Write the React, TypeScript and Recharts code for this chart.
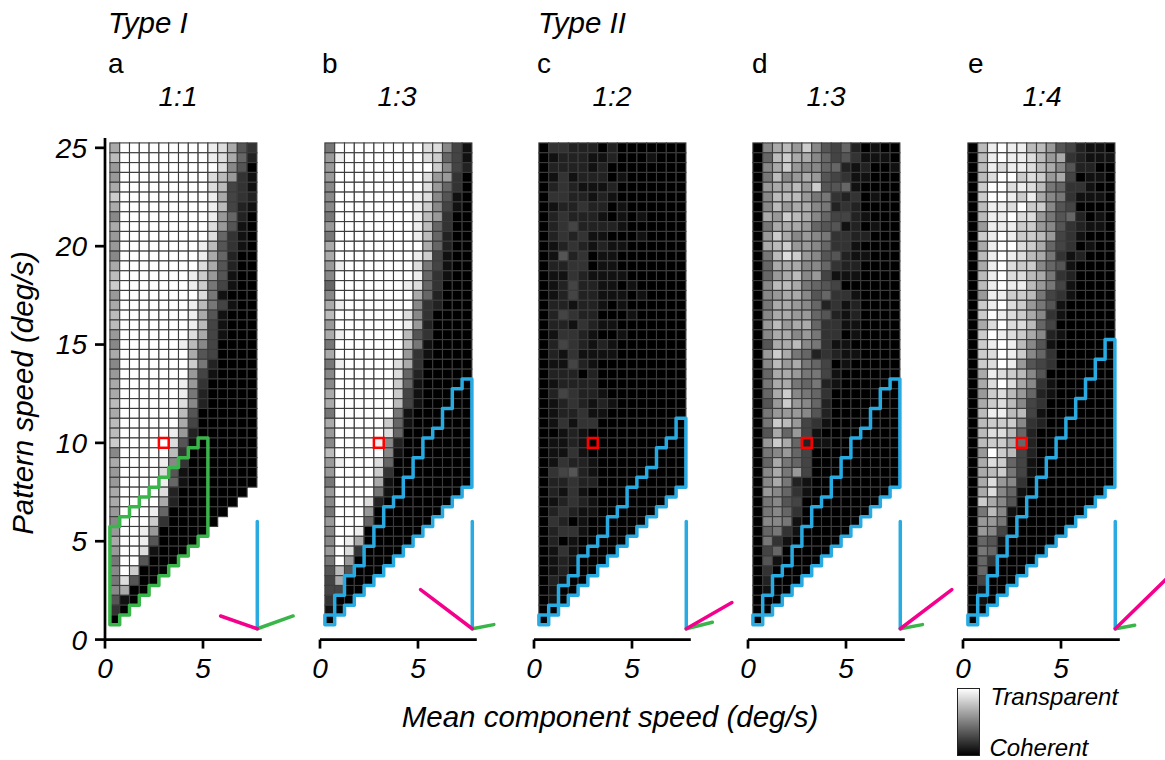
import { ScatterChart, Scatter, XAxis, YAxis, ReferenceLine } from "recharts";

// transparency level per cell (hex digit, 0 = coherent, f = transparent)
// rows run from pattern speed 25 down to 1 in steps of 0.5, columns from 0.5 to 7.5 in steps of 0.5
const levelsA = [
  "afffffffffeda53", "bfffffffffeda62", "9ffffffffffd850", "9fffffffffdb931", "afffffffffdb431",
  "cfffffffffea432", "afffffffffeb421", "8fffffffffe9620", "afffffffffd9510", "9fffffffffd6310",
  "9ffffffffeb5310", "8ffffffffea6200", "affffffffda5200", "bfffffffec95100", "cfffffffec74100",
  "9ffffffffd71000", "afffffffeb74100", "bfffffffea51000", "bfffffffeb41000", "9fffffffda41000",
  "8ffffffeb840000", "afffffffa540000", "8fffffffc720000", "9fffffff9410000", "affffffe9300000",
  "affffffe7200000", "bffffffd8200000", "affffffb5000000", "bffffffa4000000", "bfffffe92000000",
  "cfffffd51000000", "8fffffb30000000", "affffe830000000", "9ffffd510000000", "9ffffe610000000",
  "affffd20000000", "affffa2000000", "9fffe6000000", "8fffc300000", "9ffe900000",
  "affe50000", "9ffd1000", "7ff5000", "8fc000", "7d500", "8a00", "510", "30", "0",
];
const levelsB = [
  "7fffffffffdd841", "9effffffffdc641", "9ffffffffffc842", "9fffffffffd9930", "8fffffffffd9630",
  "8ffffffffed8510", "8ffffffffec8410", "7ffffffffeb9300", "9ffffffffeb6300", "7ffffffffeb6200",
  "afffffffffa6200", "affffffffec4100", "9efffffffd74100", "8ffffffffe63100", "6fffffffed63000",
  "8ffffffffa62000", "aefffffff832000", "bfffffffd830000", "9fffffffe920000", "aeffffffb530000",
  "7fffffffb710000", "afffffff9310000", "7efffffda300000", "8ffffffd6200000", "8ffffffc6100000",
  "affffffc4100000", "affffffb4100000", "7ffffff71000000", "afffffc61000000", "9fffffd60000000",
  "8ffffe820000000", "bfffff810000000", "9efffd600000000", "9ffffc300000000", "7ffffa100000000",
  "9ffff710000000", "8fffd20000000", "7fff90000000", "9fff6000000", "8ffe000000",
  "8fea00000", "9fd30000", "7f90000", "5b5000", "4a000", "4400", "300", "10", "0",
];
const levelsC = [
  "033222020000000", "012221120001000", "022221200000000", "013122201000000", "023211120000000",
  "033221210000000", "012232201000000", "023222101010000", "023422221000000", "023231100010000",
  "012321211000000", "015230110000000", "022330110000000", "011321111000000", "012422110100000",
  "012422111010000", "022122101000000", "024322000100000", "022132110000000", "013321001000000",
  "024321210000000", "021311110000000", "011421000000000", "022202000000000", "012222000000000",
  "024322100000000", "012321210000000", "012231100000000", "013133000000000", "001210000000000",
  "011210000000000", "011310000000000", "013221000000000", "034521000000000", "022322000000000",
  "02131000000000", "0123210000000", "023211000000", "03201000000", "0233100000",
  "020100000", "01310000", "0121000", "012000", "02100", "0100", "010", "00", "0",
];
const levelsD = [
  "08ab9c854620100", "06bcaa864531110", "08ac98866212001", "07b89a954311000", "09aab9c55610000",
  "08bbb9773230100", "08b9aa872320000", "0a9cba864421000", "07aaa9655120100", "09ca89873322000",
  "0abc99863310000", "07bdc9855211000", "06aaa8863220000", "069ab8941110000", "08bba7654000000",
  "089aa8563310000", "07aa98623120000", "08aa99652120000", "09b9aa633110000", "08aa89733010000",
  "05aab8731100000", "09ca76232110000", "08b9a7640100000", "06aa97741000000", "07aa76721000000",
  "06ac87630000000", "059c98620000000", "079998520000000", "07cb94310000000", "05a694100000000",
  "09ca62110000000", "078964000000000", "06a764000000000", "08a794000000000", "08a721000000000",
  "09863100000000", "0785400000000", "078630000000", "08871000000", "0673100000",
  "073100000", "04600000", "0510000", "030000", "02000", "0100", "000", "00", "0",
];
const levelsE = [
  "0befeebb9542110", "0befeedb9a32111", "0bedeedba852200", "0bdffcdc9a40110", "0cffdedb7633100",
  "0cffecea8731110", "0beedfcc8540000", "0beefdd97562010", "09eeecc98532110",
  "0cefeccb9431000", "0aeffdca6430100", "0befedba7312000", "0aefdcc86510000", "0befddba7320000",
  "0befeeb97410000", "09eeccb74310000", "0cefdc975100000", "0cfedca83100000", "0adfddb64000000",
  "0cfedca82100000", "0cefeb851000000", "0cdfec863000000", "0cdfe9543000000", "0aedcb850000000",
  "0adfda831000000", "09cdb9621000000", "0acdb8430000000", "0beebb410000000", "0bccc8320000000",
  "0bddb6200000000", "0bcca6200000000", "09fcb4200000000", "0adc64100000000", "0abc74100000000",
  "0ad983000000000", "0ad86100000000", "0ca8500000000", "07b810000000", "09970000000",
  "0984000000", "065100000", "07600000", "0630000", "060000", "04000", "0100", "010", "00", "0",
];

// top edge of the outlined region, one per column starting at 0.5
const outlineTopA = [5.75, 6.25, 6.75, 7.25, 7.75, 8.25, 8.75, 9.25, 9.75, 10.25];
const outlineTopB = [1.25, 2.25, 3.25, 3.75, 4.75, 5.75, 6.75, 7.25, 8.25, 9.25, 10.25, 10.75, 11.75, 12.75, 13.25];
const outlineTopC = [1.25, 1.75, 2.75, 3.25, 4.25, 4.75, 5.25, 6.25, 6.75, 7.75, 8.25, 8.75, 9.75, 10.25, 11.25];
const outlineTopD = [1.25, 2.25, 3.25, 3.75, 4.75, 5.75, 6.75, 7.25, 8.25, 9.25, 10.25, 10.75, 11.75, 12.75, 13.25];
const outlineTopE = [1.25, 2.25, 3.25, 4.25, 5.25, 6.25, 7.25, 8.25, 9.25, 10.25, 11.25, 12.25, 13.25, 14.25, 15.25];

// component and pattern vectors, drawn from the same origin
const vectorOrigin = { x: 7.77, y: 0.55 };
const patternTip = { x: 7.77, y: 6 };
const vectorPinkTips = [
  { x: 5.9, y: 1.2 },
  { x: 5.13, y: 2.54 },
  { x: 10.1, y: 1.88 },
  { x: 10.4, y: 2.54 },
  { x: 10.6, y: 3.3 },
];
const vectorGreenTips = [
  { x: 9.6, y: 1.2 },
  { x: 8.87, y: 0.76 },
  { x: 9.1, y: 0.88 },
  { x: 8.9, y: 0.76 },
  { x: 8.76, y: 0.73 },
];

const probe = [{ x: 3, y: 10 }];
const xTicks = [0, 5];
const yTicks = [0, 5, 10, 15, 20, 25];
const panelLetters = ["a", "b", "c", "d", "e"];
const panelRatios = ["1:1", "1:3", "1:2", "1:3", "1:4"];

const FONT = "'Liberation Sans', Arial, sans-serif";
const BLUE = "#29abe2";
const GREEN = "#39b54a";
const PINK = "#f5008c";
const AXIS_W = 2.7;

const PX_X = 19.6;
const PX_Y = 19.67;
const X_MAX = 11;
const Y_MAX = 25.5;
const PLOT_W = X_MAX * PX_X;
const PLOT_H = Y_MAX * PX_Y;
const LEFT_GUTTER = 70;
const TOP = 10;
const BOTTOM = 50;
const AXIS_Y = 640;

const CELL_W = PX_X * 0.5;
const CELL_H = PX_Y * 0.5;

const origins = [105.3, 319.5, 534, 748, 962.5];
const ratioCenters = [178, 397, 612, 826, 1042];
const letterLefts = [108, 322, 537, 752, 968];

type CellPoint = { x: number; y: number; level: number };

const toCells = (rows: string[]): CellPoint[] => {
  const cells: CellPoint[] = [];
  rows.forEach((row, r) => {
    row.split("").forEach((ch, c) => {
      cells.push({ x: 0.5 + c * 0.5, y: 25 - r * 0.5, level: parseInt(ch, 16) });
    });
  });
  return cells;
};

const toOutline = (tops: number[]) => {
  const pts: { x: number; y: number }[] = [];
  tops.forEach((top, i) => {
    const left = 0.25 + i * 0.5;
    pts.push({ x: left, y: top }, { x: left + 0.5, y: top });
  });
  for (let i = tops.length - 1; i >= 0; i--) {
    const left = 0.25 + i * 0.5;
    const bottom = left + 0.5;
    pts.push({ x: left + 0.5, y: bottom }, { x: left, y: bottom });
  }
  pts.push({ x: 0.25, y: tops[0] });
  return pts;
};

const CellShape = (props: any) => {
  const { cx, cy, payload } = props;
  const g = payload.level * 17;
  return (
    <rect
      x={cx - CELL_W / 2}
      y={cy - CELL_H / 2}
      width={CELL_W}
      height={CELL_H}
      fill={`rgb(${g},${g},${g})`}
      stroke="#3c3c3c"
      strokeWidth={1.1}
    />
  );
};

const ProbeShape = (props: any) => (
  <rect x={props.cx - 4.9} y={props.cy - 4.9} width={9.8} height={9.8} fill="none" stroke="#ff0000" strokeWidth={2.5} />
);

const NoDot = () => <g />;

type PanelProps = {
  index: number;
  rows: string[];
  tops: number[];
  outlineColor: string;
};

const Panel = ({ index, rows, tops, outlineColor }: PanelProps) => {
  const showY = index === 0;
  const lineStyle = (stroke: string) => ({ stroke, strokeWidth: 3.5, strokeLinecap: "round", strokeLinejoin: "round" });
  const tickStyle = { fill: "#000", fontSize: 28, fontStyle: "italic", fontFamily: FONT };
  return (
    <div style={{ position: "absolute", left: origins[index] - LEFT_GUTTER, top: AXIS_Y - PLOT_H - TOP }}>
      <ScatterChart
        width={LEFT_GUTTER + PLOT_W}
        height={TOP + PLOT_H + BOTTOM}
        margin={{ top: TOP, right: 0, bottom: 0, left: showY ? 0 : LEFT_GUTTER }}
      >
        <XAxis
          type="number"
          dataKey="x"
          domain={[0, X_MAX]}
          ticks={xTicks}
          interval={0}
          height={BOTTOM}
          axisLine={false}
          tickLine={{ stroke: "#000", strokeWidth: AXIS_W }}
          tickSize={9}
          tickMargin={10}
          tick={tickStyle}
        />
        <YAxis
          type="number"
          dataKey="y"
          domain={[0, Y_MAX]}
          ticks={yTicks}
          interval={0}
          width={LEFT_GUTTER}
          hide={!showY}
          axisLine={{ stroke: "#000", strokeWidth: AXIS_W }}
          tickLine={{ stroke: "#000", strokeWidth: AXIS_W }}
          tickSize={10}
          tickMargin={8}
          tick={tickStyle}
        />
        <ReferenceLine segment={[{ x: 0, y: 0 }, { x: 8, y: 0 }]} stroke="#000" strokeWidth={AXIS_W} />
        <Scatter data={toCells(rows)} shape={CellShape} isAnimationActive={false} />
        <Scatter data={toOutline(tops)} line={lineStyle(outlineColor)} lineType="joint" shape={NoDot} isAnimationActive={false} />
        <Scatter data={probe} shape={ProbeShape} isAnimationActive={false} />
        <Scatter data={[vectorOrigin, patternTip]} line={lineStyle(BLUE)} lineType="joint" shape={NoDot} isAnimationActive={false} />
        <Scatter data={[vectorOrigin, vectorGreenTips[index]]} line={lineStyle(GREEN)} lineType="joint" shape={NoDot} isAnimationActive={false} />
        <Scatter data={[vectorOrigin, vectorPinkTips[index]]} line={lineStyle(PINK)} lineType="joint" shape={NoDot} isAnimationActive={false} />
      </ScatterChart>
    </div>
  );
};

const panels = [
  { rows: levelsA, tops: outlineTopA, outlineColor: GREEN },
  { rows: levelsB, tops: outlineTopB, outlineColor: BLUE },
  { rows: levelsC, tops: outlineTopC, outlineColor: BLUE },
  { rows: levelsD, tops: outlineTopD, outlineColor: BLUE },
  { rows: levelsE, tops: outlineTopE, outlineColor: BLUE },
];

const App = () => (
  <div style={{ position: "absolute", left: 0, top: 0, width: 1165, height: 760, overflow: "hidden", background: "#fff" }}>
    {panels.map((p, i) => (
      <Panel key={i} index={i} rows={p.rows} tops={p.tops} outlineColor={p.outlineColor} />
    ))}
    <svg width={1165} height={760} style={{ position: "absolute", left: 0, top: 0, pointerEvents: "none" }} fontFamily={FONT} fill="#000">
      <defs>
        <linearGradient id="legendRamp" x1="0" y1="0" x2="0" y2="1">
          <stop offset="0%" stopColor="#ffffff" />
          <stop offset="100%" stopColor="#000000" />
        </linearGradient>
      </defs>
      <text x={108} y={33} fontSize={29.5} fontStyle="italic">Type I</text>
      <text x={538} y={33} fontSize={29.5} fontStyle="italic">Type II</text>
      {panelLetters.map((l, i) => (
        <text key={l} x={letterLefts[i]} y={73} fontSize={28}>{l}</text>
      ))}
      {panelRatios.map((r, i) => (
        <text key={i} x={ratioCenters[i]} y={106} fontSize={28} fontStyle="italic" textAnchor="middle">{r}</text>
      ))}
      <text x={610} y={727} fontSize={29.5} fontStyle="italic" textAnchor="middle">Mean component speed (deg/s)</text>
      <text x={0} y={0} transform="translate(33,393) rotate(-90)" fontSize={29.5} fontStyle="italic" textAnchor="middle">Pattern speed (deg/s)</text>
      <rect x={957.5} y={688.5} width={22} height={67} fill="url(#legendRamp)" stroke="#222" strokeWidth={1} />
      <text x={990.5} y={705} fontSize={24} fontStyle="italic">Transparent</text>
      <text x={989.5} y={756} fontSize={24} fontStyle="italic">Coherent</text>
    </svg>
  </div>
);

export default App;
